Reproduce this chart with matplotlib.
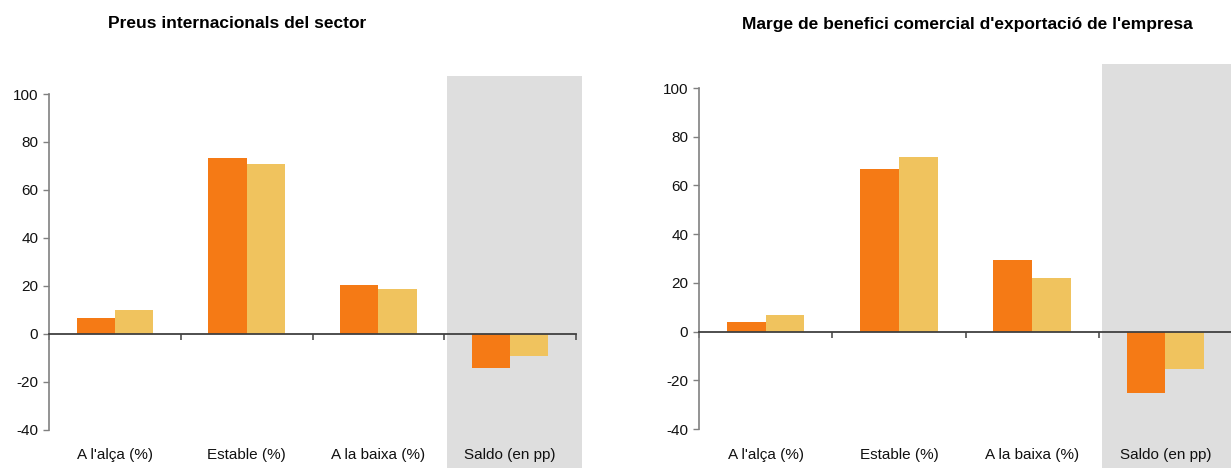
import matplotlib
matplotlib.use("Agg")
import matplotlib.pyplot as plt
from matplotlib.patches import Rectangle
import numpy as np

plt.rcParams['font.family'] = ['Liberation Sans', 'DejaVu Sans']

categories = ["A l'alça (%)", "Estable (%)", "A la baixa (%)", "Saldo (en pp)"]
preus_serie1 = [6.7, 73.2, 20.4, -14.1]
preus_serie2 = [10.0, 71.0, 18.8, -9.1]
marge_serie1 = [4.0, 66.9, 29.3, -25.3]
marge_serie2 = [6.8, 71.8, 21.9, -15.1]
titles = ["Preus internacionals del sector",
          "Marge de benefici comercial d'exportació de l'empresa"]
yticks = [-40, -20, 0, 20, 40, 60, 80, 100]

ORANGE = '#F57A15'
YELLOW = '#F0C35E'
GRAY = '#DEDEDE'

W, H = 1231, 468
fig = plt.figure(figsize=(W / 100, H / 100), dpi=100)

def px_axes(x0, x1, ybot, ytop):
    return [x0 / W, (H - ybot) / H, (x1 - x0) / W, (ybot - ytop) / H]

ax1 = fig.add_axes(px_axes(49, 576, 429.6, 94))
ax2 = fig.add_axes(px_axes(699, 1232, 429.2, 88))

def draw(ax, s1, s2, gray_top, gray_bot):
    x = np.arange(len(categories))
    w = 0.29
    ax.bar(x - w / 2, s1, w, color=ORANGE, zorder=3)
    ax.bar(x + w / 2, s2, w, color=YELLOW, zorder=3)
    ax.set_xlim(-0.5, len(categories) - 0.5)
    ax.set_ylim(-40, 100)
    ax.set_yticks(yticks)
    ax.set_yticklabels([str(v) for v in yticks])
    ax.tick_params(axis='y', direction='out', length=4.3, width=1,
                   color='#808080', labelsize=11, pad=3.5, labelcolor='#111111')
    for s in ['top', 'right']:
        ax.spines[s].set_visible(False)
    ax.spines['left'].set_color('#808080')
    ax.spines['left'].set_linewidth(1.2)
    ax.spines['bottom'].set_position(('data', 0))
    ax.spines['bottom'].set_color('#404040')
    ax.spines['bottom'].set_linewidth(1.3)
    ax.spines['bottom'].set_zorder(4)
    bounds = np.arange(len(categories) + 1) - 0.5
    ax.set_xticks(bounds)
    ax.set_xticklabels([''] * len(bounds))
    ax.tick_params(axis='x', direction='out', length=4, width=1.2, color='#505050')
    trans = ax.get_xaxis_transform()
    for i, c in enumerate(categories):
        ax.text(i, -0.0757, c, transform=trans, ha='center', va='center',
                fontsize=11, color='#111111')
    ax.add_patch(Rectangle((2.523, gray_bot), 1.025, gray_top - gray_bot,
                           transform=trans, facecolor=GRAY, edgecolor='none',
                           zorder=0, clip_on=False))
    ax.set_facecolor('none')

draw(ax1, preus_serie1, preus_serie2, 1.0536, -0.1144)
draw(ax2, marge_serie1, marge_serie2, 1.0704, -0.1137)

fig.text(237 / W, 1 - 24 / H, titles[0], ha='center', va='center',
         fontsize=12.5, fontweight='bold')
fig.text(967 / W, 1 - 25 / H, titles[1], ha='center', va='center',
         fontsize=12.5, fontweight='bold')

fig.savefig('out.png', dpi=100)
